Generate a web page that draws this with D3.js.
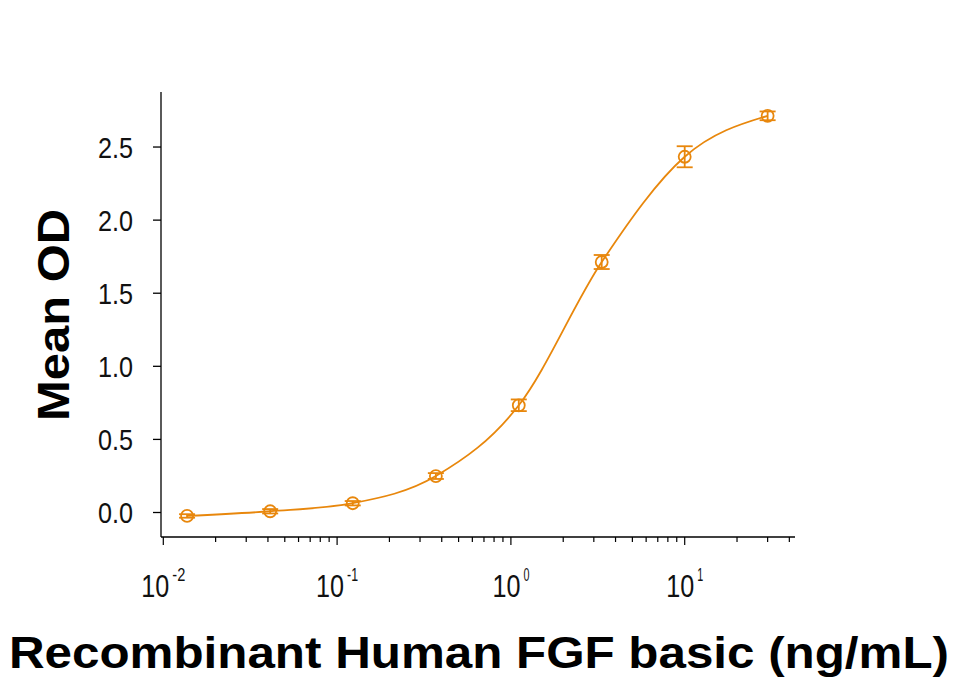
<!DOCTYPE html>
<html lang="en">
<head>
  <meta charset="UTF-8">
  <title>FGF basic</title>
  <script src="https://cdn.jsdelivr.net/npm/d3@7.6.1/dist/d3.min.js"></script>
  <style>
    body { margin: 0; background: #fff; }
    svg { display: block; }
    .tick-lbl { font-family: "Liberation Sans", Arial, sans-serif; }
    .title { font-family: "Liberation Sans", Arial, sans-serif; font-weight: bold; }
  </style>
</head>
<body>
  <div id="box"></div>
  <script>
    const width = 956
    const height = 686

    // concentration (ng/mL), mean OD, error
    const conc = [0.0137, 0.0412, 0.123, 0.37, 1.11, 3.33, 10, 30]
    const meanOD = [-0.027, 0.005, 0.06, 0.246, 0.73, 1.71, 2.43, 2.71]
    const errOD = [0.012, 0.015, 0.015, 0.02, 0.04, 0.048, 0.072, 0.03]
    const yTicks = [0, 0.5, 1.0, 1.5, 2.0, 2.5]
    const xMajor = [0.01, 0.1, 1, 10]
    const xExp = ['-2', '-1', '0', '1']
    const color = '#e8870c'

    const svg = d3.select('#box').append('svg')
      .attr('width', width)
      .attr('height', height)

    const xScale = d3.scaleLog().domain([0.01, 10]).range([163.3, 684.7])
    const yScale = d3.scaleLinear().domain([-0.171, 2.873]).range([537, 92])

    // y axis
    const yAxis = d3.axisLeft(yScale).tickValues(yTicks).tickSize(8).tickFormat(d3.format('.1f'))
    const gy = svg.append('g').attr('transform', 'translate(161,0)').call(yAxis)
    gy.select('.domain').attr('d', 'M0,92V537').attr('stroke-width', 1.3)
    gy.selectAll('.tick line').attr('stroke-width', 1.3)
    gy.selectAll('.tick text')
      .attr('class', 'tick-lbl')
      .attr('x', -28)
      .attr('dy', '0.36em')
      .attr('font-size', 30)
      .attr('fill', '#111')
      .attr('textLength', 35)
      .attr('lengthAdjust', 'spacingAndGlyphs')

    // x axis with minor ticks
    const minor = []
    for (let e = -2; e <= 1; e++) {
      for (let m = 1; m < 10; m++) {
        const v = m * Math.pow(10, e)
        if (v <= 45) minor.push(v)
      }
    }
    const gx = svg.append('g').attr('transform', 'translate(0,537)')
    gx.append('line').attr('x1', 161).attr('x2', 795).attr('stroke', '#000').attr('stroke-width', 1.3)
    gx.selectAll('line.tk').data(minor).join('line')
      .attr('class', 'tk')
      .attr('x1', d => xScale(d)).attr('x2', d => xScale(d))
      .attr('y1', 0).attr('y2', d => xMajor.includes(d) ? 8 : 5)
      .attr('stroke', '#000').attr('stroke-width', 1.2)

    // "10" and its exponent as two texts, side by side
    const baseW = 28
    const gap = 3
    const expW = [13, 11, 6, 6]
    const xl = gx.selectAll('g.xl').data(xMajor).join('g').attr('class', 'xl')
    xl.append('text')
      .attr('class', 'tick-lbl')
      .attr('x', (d, i) => xScale(d) - (baseW + expW[i] + gap) / 2)
      .attr('y', 59.5)
      .attr('font-size', 31.5)
      .attr('fill', '#111')
      .attr('textLength', baseW)
      .attr('lengthAdjust', 'spacingAndGlyphs')
      .text('10')
    xl.append('text')
      .attr('class', 'tick-lbl')
      .attr('x', (d, i) => xScale(d) - (baseW + expW[i] + gap) / 2 + baseW + gap)
      .attr('y', 43.5)
      .attr('font-size', 18)
      .attr('fill', '#111')
      .attr('textLength', (d, i) => expW[i])
      .attr('lengthAdjust', 'spacingAndGlyphs')
      .text((d, i) => xExp[i])

    // axis titles
    svg.append('text').attr('class', 'title')
      .attr('x', 479).attr('y', 668)
      .attr('text-anchor', 'middle')
      .attr('font-size', 44)
      .attr('textLength', 940).attr('lengthAdjust', 'spacingAndGlyphs')
      .text('Recombinant Human FGF basic (ng/mL)')

    svg.append('text').attr('class', 'title')
      .attr('transform', 'translate(69,315) rotate(-90)')
      .attr('text-anchor', 'middle')
      .attr('font-size', 44)
      .attr('textLength', 212).attr('lengthAdjust', 'spacingAndGlyphs')
      .text('Mean OD')

    // curve
    const pts = conc.map((c, i) => [xScale(c), yScale(meanOD[i])])
    svg.append('path')
      .attr('d', d3.line().curve(d3.curveMonotoneX)(pts))
      .attr('fill', 'none')
      .attr('stroke', color)
      .attr('stroke-width', 1.8)

    // error bars and markers
    const pg = svg.append('g').selectAll('g').data(conc).join('g')
      .attr('stroke', color).attr('fill', 'none').attr('stroke-width', 1.8)
    pg.append('line')
      .attr('x1', d => xScale(d)).attr('x2', d => xScale(d))
      .attr('y1', (d, i) => yScale(meanOD[i] - errOD[i]))
      .attr('y2', (d, i) => yScale(meanOD[i] + errOD[i]))
    pg.each(function (d, i) {
      const g = d3.select(this)
      for (const s of [-1, 1]) {
        g.append('line')
          .attr('x1', xScale(d) - 8).attr('x2', xScale(d) + 8)
          .attr('y1', yScale(meanOD[i] + s * errOD[i]))
          .attr('y2', yScale(meanOD[i] + s * errOD[i]))
      }
    })
    pg.append('circle')
      .attr('cx', d => xScale(d))
      .attr('cy', (d, i) => yScale(meanOD[i]))
      .attr('r', 6)
  </script>
</body>
</html>
